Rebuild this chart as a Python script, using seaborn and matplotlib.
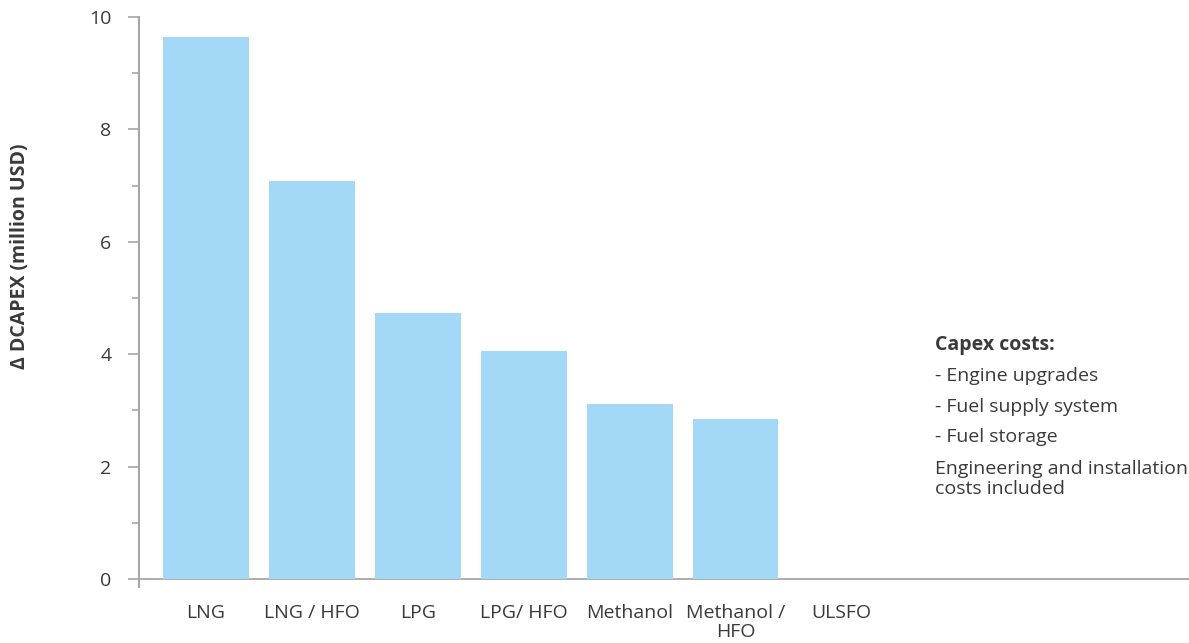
import matplotlib
matplotlib.use("Agg")
import matplotlib.pyplot as plt
import seaborn as sns
import pandas as pd
from matplotlib.ticker import MultipleLocator

# Additional capital cost per fuel option (million USD)
fuels = ["LNG", "LNG / HFO", "LPG", "LPG/ HFO", "Methanol", "Methanol /\nHFO", "ULSFO"]
capex = [9.64, 7.08, 4.73, 4.06, 3.11, 2.85, 0.0]

notes_title = "Capex costs:"
notes_items = ["- Engine upgrades", "- Fuel supply system", "- Fuel storage"]
notes_footer = "Engineering and installation\ncosts included"

sns.set_theme(style="white")
plt.rcParams["font.family"] = ["Open Sans", "DejaVu Sans"]

text_col = "#3a3a3a"
axis_col = "#a6a6a6"
bar_col = "#a3d9f6"
fs = 14

df = pd.DataFrame({"fuel": fuels, "capex": capex})

fig = plt.figure(figsize=(11.89, 6.43), dpi=100)
ax = fig.add_axes([0.117, 0.0865, 0.883, 0.887])

sns.barplot(data=df, x="fuel", y="capex", color=bar_col, saturation=1,
            width=0.81, linewidth=0, ax=ax)

ax.set_xlim(-0.63, 9.28)
ax.set_ylim(-0.15, 10)
ax.set_yticks([0, 2, 4, 6, 8, 10])
ax.yaxis.set_minor_locator(MultipleLocator(1))
ax.tick_params(axis="y", which="major", length=8, width=1.2, color=axis_col,
               labelsize=fs, labelcolor=text_col, pad=12, left=True)
ax.tick_params(axis="y", which="minor", length=5, width=1.2, color=axis_col, left=True)
ax.tick_params(axis="x", length=0, labelsize=fs, labelcolor=text_col, pad=12)
for lbl in ax.get_xticklabels():
    lbl.set_linespacing(1.05)

for side in ["top", "right", "bottom"]:
    ax.spines[side].set_visible(False)
ax.spines["left"].set_color(axis_col)
ax.spines["left"].set_linewidth(1.5)
ax.axhline(0, color=axis_col, linewidth=1.3, zorder=0)

ax.set_xlabel("")
ax.set_ylabel("")
fig.text(20 / 1189, 1 - 256 / 643, "\u0394 DCAPEX (million USD)", rotation=90,
         ha="center", va="center", fontsize=fs, fontweight="bold", color=text_col)

# Side notes
x0 = 935 / 1189
fig.text(x0, 1 - 345 / 643, notes_title, ha="left", va="center",
         fontsize=fs, fontweight="bold", color=text_col)
for i, item in enumerate(notes_items):
    fig.text(x0, 1 - (376 + 30.5 * i) / 643, item, ha="left", va="center",
             fontsize=fs, color=text_col)
fig.text(x0, 1 - 479 / 643, notes_footer, ha="left", va="center",
         fontsize=fs, color=text_col, linespacing=1.1)

fig.savefig("out.png", dpi=100)
